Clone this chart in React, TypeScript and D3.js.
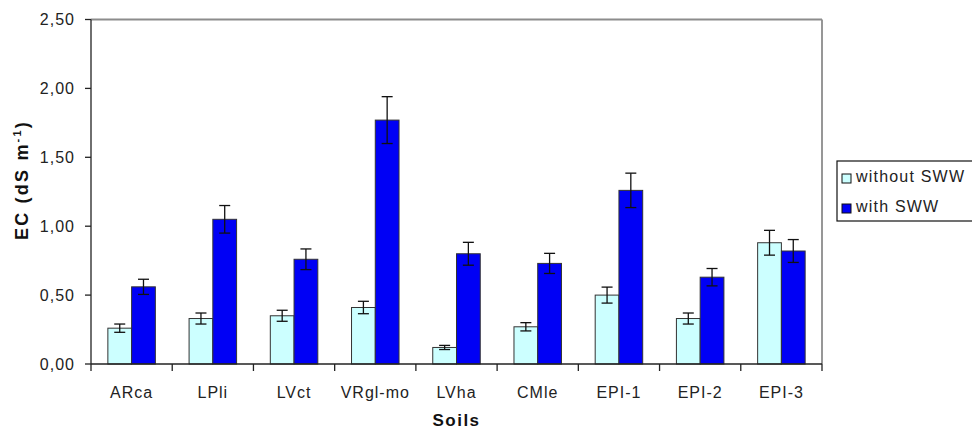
import React from 'react';
import * as d3 from 'd3';

const soils = ['ARca', 'LPli', 'LVct', 'VRgl-mo', 'LVha', 'CMle', 'EPI-1', 'EPI-2', 'EPI-3'];
const seriesNames = ['without SWW', 'with SWW'];
const withoutSWW = [0.26, 0.33, 0.35, 0.41, 0.12, 0.27, 0.50, 0.33, 0.88];
const withoutErr = [0.03, 0.04, 0.04, 0.045, 0.015, 0.03, 0.058, 0.04, 0.09];
const withSWW = [0.56, 1.05, 0.76, 1.77, 0.80, 0.73, 1.26, 0.63, 0.82];
const withErr = [0.055, 0.10, 0.075, 0.17, 0.083, 0.073, 0.125, 0.063, 0.083];
const yTicks = [0, 0.5, 1, 1.5, 2, 2.5];

const colors = ['#ccffff', '#0000f5'];
const font = '"Liberation Sans", Arial, sans-serif';

const W = 972;
const H = 431;
const plot = { left: 91, right: 822, top: 19.5, bottom: 364 };

export default function App() {
  const x0 = d3.scaleBand<string>().domain(soils).range([plot.left, plot.right]).padding(0);
  const x1 = d3
    .scaleBand<string>()
    .domain(seriesNames)
    .range([0, x0.bandwidth()])
    .paddingInner(0)
    .paddingOuter(0.71);
  const y = d3.scaleLinear().domain([0, 2.5]).range([plot.bottom, plot.top]);
  const fmt = (v: number) => d3.format('.2f')(v).replace('.', ',');

  const rows = soils.map((s, i) => ({
    soil: s,
    vals: [
      { name: seriesNames[0], v: withoutSWW[i], e: withoutErr[i] },
      { name: seriesNames[1], v: withSWW[i], e: withErr[i] },
    ],
  }));

  // tick marks sit on the category boundaries
  const boundaries = soils.map((s) => x0(s)!).concat([plot.right]);

  return (
    <div style={{ position: 'fixed', left: 0, top: 0 }}>
      <svg width={W} height={H} style={{ display: 'block', background: '#fff' }} fontFamily={font}>
        <line x1={plot.left} x2={plot.right} y1={plot.top} y2={plot.top} stroke="#8c8c8c" strokeWidth={1.8} />
        <line x1={plot.right} x2={plot.right} y1={plot.top} y2={plot.bottom} stroke="#8c8c8c" strokeWidth={1.8} />

        {rows.map((r) =>
          r.vals.map((d, j) => {
            const bx = x0(r.soil)! + x1(d.name)!;
            const bw = x1.bandwidth();
            const cx = bx + bw / 2;
            return (
              <g key={r.soil + d.name}>
                <rect
                  x={bx}
                  y={y(d.v)}
                  width={bw}
                  height={y(0) - y(d.v)}
                  fill={colors[j]}
                  stroke="#333"
                  strokeWidth={1}
                />
                <line x1={cx} x2={cx} y1={y(d.v + d.e)} y2={y(d.v - d.e)} stroke="#111" strokeWidth={1.3} />
                <line x1={cx - 5.5} x2={cx + 5.5} y1={y(d.v + d.e)} y2={y(d.v + d.e)} stroke="#111" strokeWidth={1.3} />
                <line x1={cx - 5.5} x2={cx + 5.5} y1={y(d.v - d.e)} y2={y(d.v - d.e)} stroke="#111" strokeWidth={1.3} />
              </g>
            );
          })
        )}

        <line x1={plot.left} x2={plot.left} y1={plot.top} y2={plot.bottom} stroke="#222" strokeWidth={1.3} />
        <line x1={plot.left} x2={plot.right} y1={plot.bottom} y2={plot.bottom} stroke="#222" strokeWidth={1.3} />
        {yTicks.map((t) => (
          <g key={t}>
            <line x1={plot.left - 6} x2={plot.left} y1={y(t)} y2={y(t)} stroke="#222" strokeWidth={1.3} />
            <text x={75} y={y(t)} dy="0.36em" textAnchor="end" fontSize={16} fill="#222" letterSpacing={1}>
              {fmt(t)}
            </text>
          </g>
        ))}
        {boundaries.map((b, i) => (
          <line key={i} x1={b} x2={b} y1={plot.bottom} y2={plot.bottom + 7} stroke="#222" strokeWidth={1.3} />
        ))}
        {soils.map((s) => (
          <text
            key={s}
            x={x0(s)! + x0.bandwidth() / 2}
            y={398}
            textAnchor="middle"
            fontSize={16}
            fill="#222"
            letterSpacing={1}
          >
            {s}
          </text>
        ))}

        <text x={(plot.left + plot.right) / 2} y={426} textAnchor="middle" fontSize={17} fontWeight="bold" letterSpacing={1.5} fill="#111">
          Soils
        </text>
        <text
          transform="translate(28,180) rotate(-90)"
          textAnchor="middle"
          fontSize={18}
          fontWeight="bold"
          letterSpacing={2.2}
          fill="#111"
        >
          EC (dS m<tspan dy="-7" fontSize={11}>-1</tspan>
          <tspan dy="7">)</tspan>
        </text>

        <rect x={837} y={161} width={160} height={60} fill="#fff" stroke="#111" strokeWidth={1.2} />
        {seriesNames.map((n, i) => {
          const cy = 177 + i * 30;
          return (
            <g key={n}>
              <rect x={842} y={cy - 3} width={9} height={9} fill={colors[i]} stroke="#111" strokeWidth={1} />
              <text x={856} y={cy + 5} fontSize={16} fill="#222" letterSpacing={1.2}>
                {n}
              </text>
            </g>
          );
        })}
      </svg>
    </div>
  );
}
